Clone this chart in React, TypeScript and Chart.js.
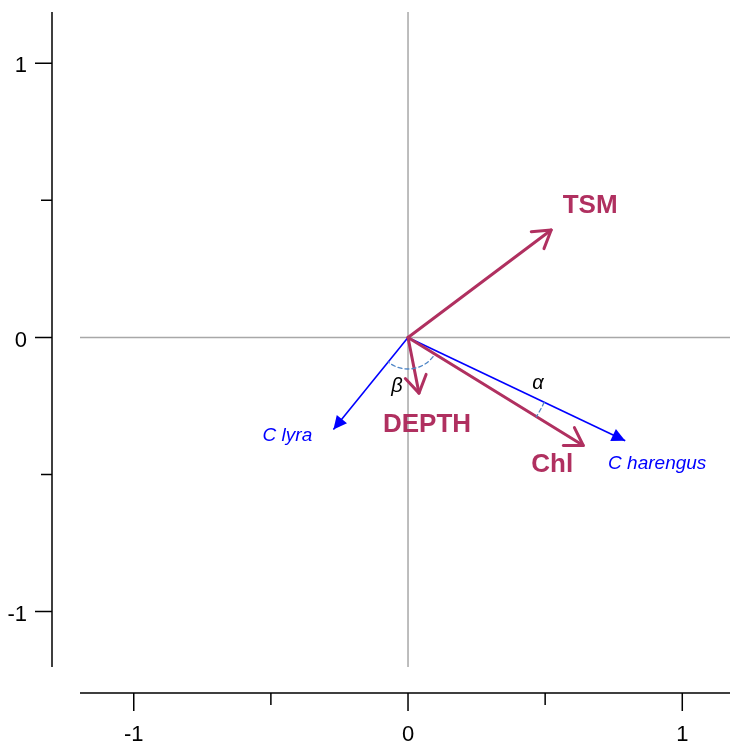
import React, { useEffect, useRef } from "react";
import { Chart, registerables } from "chart.js";

Chart.register(...registerables);

// Environmental variables (maroon arrows)
const envNames = ["TSM", "DEPTH", "Chl"];
const envX = [0.522, 0.04, 0.639];
const envY = [0.392, -0.203, -0.394];

// Species (blue arrows)
const spNames = ["C harengus", "C lyra"];
const spX = [0.792, -0.272];
const spY = [-0.377, -0.336];

// Axis ticks
const xMajorTicks = [-1, 0, 1];
const xMinorTicks = [-0.5, 0.5];
const yMajorTicks = [-1, 0, 1];
const yMinorTicks = [-0.5, 0.5];

// Angle annotations
const angleLabels = ["α", "β"];

const MAROON = "#B03060";
const BLUE = "#0000FF";
const FONT = "'Liberation Sans', Arial, Helvetica, sans-serif";

// label offsets in px from arrow tips (layout only)
const envLabelOffsets = [
  [39, -24],
  [8, 32],
  [-31, 19],
];
const spLabelOffsets = [
  [32, 23],
  [-46, 6],
];

const biplotPlugin = {
  id: "biplot",
  beforeDatasetsDraw(chart: any) {
    const { ctx, chartArea, scales } = chart;
    const x0 = scales.x.getPixelForValue(0);
    const y0 = scales.y.getPixelForValue(0);
    ctx.save();
    ctx.strokeStyle = "#a8a8a8";
    ctx.lineWidth = 1.5;
    ctx.beginPath();
    ctx.moveTo(x0, chartArea.top);
    ctx.lineTo(x0, chartArea.bottom);
    ctx.moveTo(chartArea.left, y0);
    ctx.lineTo(chartArea.right, y0);
    ctx.stroke();
    ctx.restore();
  },
  afterDatasetsDraw(chart: any) {
    const { ctx, scales } = chart;
    const sx = scales.x;
    const sy = scales.y;
    const ox = sx.getPixelForValue(0);
    const oy = sy.getPixelForValue(0);
    ctx.save();

    // arrowheads
    chart.data.datasets.forEach((ds: any, i: number) => {
      const meta = chart.getDatasetMeta(i);
      const p0 = meta.data[0];
      const p1 = meta.data[1];
      const ang = Math.atan2(p1.y - p0.y, p1.x - p0.x);
      if (ds.kind === "env") {
        const L = 20;
        const a = (32 * Math.PI) / 180;
        ctx.strokeStyle = MAROON;
        ctx.lineWidth = 3;
        ctx.lineCap = "round";
        ctx.lineJoin = "round";
        ctx.beginPath();
        ctx.moveTo(p1.x - L * Math.cos(ang - a), p1.y - L * Math.sin(ang - a));
        ctx.lineTo(p1.x, p1.y);
        ctx.lineTo(p1.x - L * Math.cos(ang + a), p1.y - L * Math.sin(ang + a));
        ctx.stroke();
      } else {
        const L = 15;
        const a = (26 * Math.PI) / 180;
        ctx.fillStyle = BLUE;
        ctx.beginPath();
        ctx.moveTo(p1.x, p1.y);
        ctx.lineTo(p1.x - L * Math.cos(ang - a), p1.y - L * Math.sin(ang - a));
        ctx.lineTo(p1.x - L * Math.cos(ang + a), p1.y - L * Math.sin(ang + a));
        ctx.closePath();
        ctx.fill();
      }
    });

    // labels
    ctx.textAlign = "center";
    ctx.textBaseline = "middle";
    ctx.font = `bold 26px ${FONT}`;
    ctx.fillStyle = MAROON;
    envNames.forEach((n, i) => {
      const px = sx.getPixelForValue(envX[i]) + envLabelOffsets[i][0];
      const py = sy.getPixelForValue(envY[i]) + envLabelOffsets[i][1];
      ctx.fillText(n, px, py);
    });
    ctx.font = `italic 19px ${FONT}`;
    ctx.fillStyle = BLUE;
    spNames.forEach((n, i) => {
      const px = sx.getPixelForValue(spX[i]) + spLabelOffsets[i][0];
      const py = sy.getPixelForValue(spY[i]) + spLabelOffsets[i][1];
      ctx.fillText(n, px, py);
    });

    // angle arcs
    const angOf = (x: number, y: number) =>
      Math.atan2(sy.getPixelForValue(y) - oy, sx.getPixelForValue(x) - ox);
    const aChl = angOf(envX[2], envY[2]);
    const aHar = angOf(spX[0], spY[0]);
    const aLyr = angOf(spX[1], spY[1]);
    ctx.strokeStyle = "#4f86c6";
    ctx.lineWidth = 1.3;
    ctx.setLineDash([4, 3]);
    ctx.beginPath();
    const rA = sx.getPixelForValue(0.55) - ox;
    ctx.arc(ox, oy, rA, aHar, aChl);
    ctx.stroke();
    ctx.beginPath();
    const rB = sx.getPixelForValue(0.115) - ox;
    ctx.arc(ox, oy, rB, aChl + 0.1, aLyr);
    ctx.stroke();
    ctx.setLineDash([]);

    ctx.fillStyle = "#000";
    ctx.font = `italic 20px ${FONT}`;
    ctx.fillText(angleLabels[0], ox + 130, oy + 46);
    ctx.fillText(angleLabels[1], ox - 11, oy + 49);
    ctx.restore();
  },
  afterDraw(chart: any) {
    const { ctx, chartArea, scales } = chart;
    const sx = scales.x;
    const sy = scales.y;
    const axX = chartArea.left - 28;
    const axY = chartArea.bottom + 26;
    ctx.save();
    ctx.strokeStyle = "#000";
    ctx.lineWidth = 1.5;
    ctx.beginPath();
    ctx.moveTo(axX, chartArea.top);
    ctx.lineTo(axX, chartArea.bottom);
    ctx.moveTo(chartArea.left, axY);
    ctx.lineTo(chartArea.right, axY);
    yMajorTicks.forEach((v) => {
      const p = sy.getPixelForValue(v);
      ctx.moveTo(axX, p);
      ctx.lineTo(axX - 17, p);
    });
    yMinorTicks.forEach((v) => {
      const p = sy.getPixelForValue(v);
      ctx.moveTo(axX, p);
      ctx.lineTo(axX - 11, p);
    });
    xMajorTicks.forEach((v) => {
      const p = sx.getPixelForValue(v);
      ctx.moveTo(p, axY);
      ctx.lineTo(p, axY + 18);
    });
    xMinorTicks.forEach((v) => {
      const p = sx.getPixelForValue(v);
      ctx.moveTo(p, axY);
      ctx.lineTo(p, axY + 12);
    });
    ctx.stroke();

    ctx.fillStyle = "#000";
    ctx.font = `22px ${FONT}`;
    ctx.textBaseline = "middle";
    ctx.textAlign = "right";
    yMajorTicks.forEach((v) => {
      ctx.fillText(String(v), axX - 25, sy.getPixelForValue(v) + 3);
    });
    ctx.textAlign = "center";
    xMajorTicks.forEach((v) => {
      ctx.fillText(String(v), sx.getPixelForValue(v), axY + 42);
    });
    ctx.restore();
  },
};

export default function App() {
  const ref = useRef<HTMLCanvasElement | null>(null);
  useEffect(() => {
    document.body.style.margin = "0";
    const canvas = ref.current!;
    const datasets: any[] = [];
    envNames.forEach((n, i) => {
      datasets.push({
        kind: "env",
        label: n,
        data: [
          { x: 0, y: 0 },
          { x: envX[i], y: envY[i] },
        ],
        showLine: true,
        borderColor: MAROON,
        borderWidth: 3,
        pointRadius: 0,
        borderCapStyle: "round",
      });
    });
    spNames.forEach((n, i) => {
      datasets.push({
        kind: "sp",
        label: n,
        data: [
          { x: 0, y: 0 },
          { x: spX[i], y: spY[i] },
        ],
        showLine: true,
        borderColor: BLUE,
        borderWidth: 1.6,
        pointRadius: 0,
      });
    });
    const chart = new Chart(canvas, {
      type: "scatter",
      data: { datasets },
      options: {
        responsive: false,
        animation: false,
        layout: { padding: { left: 80, right: 0, top: 12, bottom: 77 } },
        plugins: { legend: { display: false }, tooltip: { enabled: false } },
        scales: {
          x: { type: "linear", display: false, min: -1.196, max: 1.174 },
          y: { type: "linear", display: false, min: -1.202, max: 1.187 },
        },
      },
      plugins: [biplotPlugin],
    } as any);
    return () => chart.destroy();
  }, []);
  return (
    <canvas
      ref={ref}
      width={730}
      height={744}
      style={{ display: "block", width: 730, height: 744 }}
    />
  );
}
